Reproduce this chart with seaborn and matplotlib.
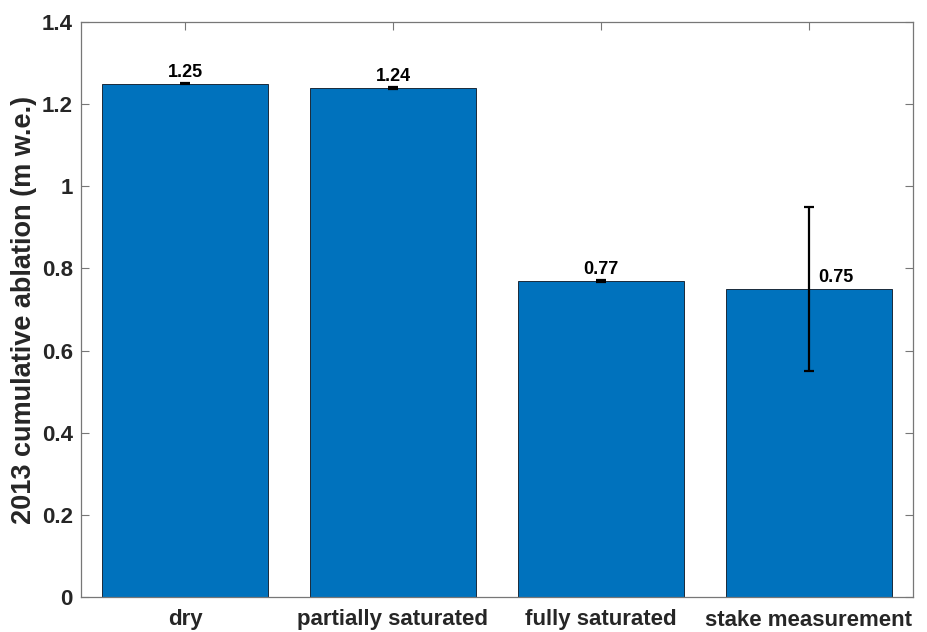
import matplotlib
matplotlib.use("Agg")
import matplotlib.pyplot as plt
import seaborn as sns
import pandas as pd
import numpy as np

categories = ["dry", "partially saturated", "fully saturated", "stake measurement"]
ablation = [1.25, 1.24, 0.77, 0.75]
uncertainty = [0.002, 0.002, 0.002, 0.2]
value_labels = ["1.25", "1.24", "0.77", "0.75"]
ytick_values = [0, 0.2, 0.4, 0.6, 0.8, 1.0, 1.2, 1.4]
ytick_labels = ["0", "0.2", "0.4", "0.6", "0.8", "1", "1.2", "1.4"]

sns.set_style("white")
plt.rcParams["font.family"] = ["Liberation Sans", "DejaVu Sans"]
plt.rcParams["font.weight"] = "bold"

df = pd.DataFrame({"category": categories, "ablation": ablation})

fig = plt.figure(figsize=(9.28, 6.32), dpi=100)
ax = fig.add_axes([81 / 928, 1 - 597 / 632, (913 - 81) / 928, (597 - 22) / 632])

sns.barplot(data=df, x="category", y="ablation", color="#0072BD", saturation=1,
            width=0.8, edgecolor="#1a2a3a", linewidth=0.7, errorbar=None, ax=ax)

pos = np.arange(len(categories))
ax.errorbar(pos, ablation, yerr=uncertainty, fmt="none", ecolor="black",
            elinewidth=1.6, capsize=3.5, capthick=1.6, zorder=5)

# value labels: centred above the bar, except where the error bar would cross it
for i, (v, e, lab) in enumerate(zip(ablation, uncertainty, value_labels)):
    if e > 0.05:
        ax.annotate(lab, (pos[i], v), xytext=(7, 2), textcoords="offset points",
                    ha="left", va="bottom", fontsize=13, fontweight="bold", color="black")
    else:
        ax.annotate(lab, (pos[i], v + e), xytext=(0, 1.5), textcoords="offset points",
                    ha="center", va="bottom", fontsize=13, fontweight="bold", color="black")

ax.set_xlim(-0.5, len(categories) - 0.5)
ax.set_ylim(0, 1.4)
ax.set_yticks(ytick_values)
ax.set_yticklabels(ytick_labels)
ax.set_xlabel("")
ax.set_ylabel("2013 cumulative ablation (m w.e.)", fontsize=19.5, fontweight="bold",
              color="#262626", labelpad=3)

ax.tick_params(axis="both", direction="in", length=6, width=0.8, color="#777777",
               labelcolor="#262626", labelsize=16)
ax.tick_params(axis="y", left=True, right=True, pad=6)
ax.tick_params(axis="x", bottom=True, top=True, pad=9)
for lab in ax.get_xticklabels() + ax.get_yticklabels():
    lab.set_fontweight("bold")

for sp in ax.spines.values():
    sp.set_visible(True)
    sp.set_color("#777777")
    sp.set_linewidth(0.9)

fig.savefig("out.png", dpi=100)
